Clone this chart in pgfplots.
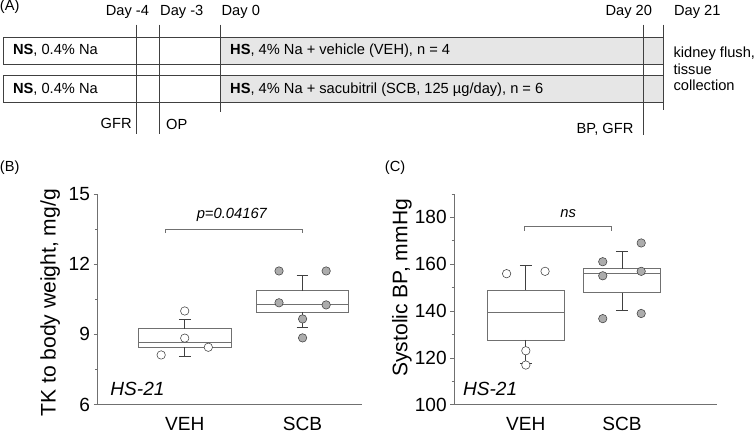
\documentclass[border=0pt]{standalone}
\usepackage{pgfplots}
\pgfplotsset{compat=1.18}
\usepackage{fontspec}
\setmainfont{Liberation Sans}
\definecolor{ln}{HTML}{404040}
\definecolor{bx}{HTML}{707070}
\definecolor{fillA}{HTML}{E6E6E6}
\definecolor{ptfill}{HTML}{ACACAC}
\definecolor{ax}{HTML}{707070}
\newcommand{\fsA}{\fontsize{14.6}{16.5}\selectfont}
\newcommand{\fsT}{\fontsize{19}{22}\selectfont}
\newcommand{\fsL}{\fontsize{21}{24}\selectfont}
\pgfplotsset{
  panel/.style={
    scale only axis, clip=false,
    axis x line*=bottom, axis y line*=left,
    axis line style={-, ax, line width=0.8pt},
    tick align=outside, major tick length=4bp, minor tick length=2.5bp,
    xtick={1,2}, xticklabels={VEH,SCB},
    x tick style={draw=none},
    y tick style={ax, line width=0.8pt},
    minor y tick style={ax, line width=0.8pt},
    tick label style={font=\fsT},
    xticklabel style={yshift=-5bp},
    /pgf/number format/assume math mode=true,
  },
  boxst/.style={bx, line width=0.8pt},
  whst/.style={ln, line width=0.8pt},
  vehpt/.style={only marks, mark=*, mark size=4.2pt, mark options={fill=white, draw=ln, line width=0.55pt}},
  scbpt/.style={only marks, mark=*, mark size=4.2pt, mark options={fill=ptfill, draw=ln, line width=0.55pt}},
}
\begin{document}
\begin{tikzpicture}
% ---------------- Panel A: timeline ----------------
\begin{axis}[at={(0bp,0bp)}, anchor=north west, scale only axis,
  width=755bp, height=432bp, xmin=0, xmax=755, ymin=0, ymax=432,
  y dir=reverse, hide axis, clip=false]
\addplot[fill=fillA, draw=none] coordinates {(222,43) (662,43) (662,69) (222,69)} -- cycle;
\addplot[fill=fillA, draw=none] coordinates {(222,80) (662,80) (662,107) (222,107)} -- cycle;
\addplot[ln, line width=0.9pt] coordinates {(7,43) (662,43) (662,69) (7,69)} -- cycle;
\addplot[ln, line width=0.9pt] coordinates {(7,80) (662,80) (662,107) (7,107)} -- cycle;
\addplot[ln, line width=0.9pt] coordinates {(139,30) (139,138)};
\addplot[ln, line width=0.9pt] coordinates {(161,30) (161,138)};
\addplot[ln, line width=0.9pt] coordinates {(222,30) (222,117)};
\addplot[ln, line width=0.9pt] coordinates {(642,30) (642,139)};
\addplot[ln, line width=0.9pt] coordinates {(662,30) (662,115)};
\node[anchor=base west, font=\fsA, inner sep=0pt] at (axis cs:3,16) {(A)};
\node[anchor=base west, font=\fsA, inner sep=0pt] at (axis cs:108,21) {Day -4};
\node[anchor=base west, font=\fsA, inner sep=0pt] at (axis cs:162,21) {Day -3};
\node[anchor=base west, font=\fsA, inner sep=0pt] at (axis cs:223,21) {Day 0};
\node[anchor=base west, font=\fsA, inner sep=0pt] at (axis cs:604,21) {Day 20};
\node[anchor=base west, font=\fsA, inner sep=0pt] at (axis cs:672,21) {Day 21};
\node[anchor=base west, font=\fsA, inner sep=0pt] at (axis cs:16,60) {\textbf{NS}, 0.4\% Na};
\node[anchor=base west, font=\fsA, inner sep=0pt] at (axis cs:16,98) {\textbf{NS}, 0.4\% Na};
\node[anchor=base west, font=\fsA, inner sep=0pt] at (axis cs:231.5,60) {\textbf{HS}, 4\% Na + vehicle (VEH), n = 4};
\node[anchor=base west, font=\fsA, inner sep=0pt] at (axis cs:231.5,98) {\textbf{HS}, 4\% Na + sacubitril (SCB, 125 µg/day), n = 6};
\node[anchor=base west, font=\fsA, inner sep=0pt] at (axis cs:671.5,62.5) {kidney flush,};
\node[anchor=base west, font=\fsA, inner sep=0pt] at (axis cs:671.5,79.3) {tissue};
\node[anchor=base west, font=\fsA, inner sep=0pt] at (axis cs:671.5,95.7) {collection};
\node[anchor=base east, font=\fsA, inner sep=0pt] at (axis cs:134,133.3) {GFR};
\node[anchor=base west, font=\fsA, inner sep=0pt] at (axis cs:168,134) {OP};
\node[anchor=base east, font=\fsA, inner sep=0pt] at (axis cs:632,137.5) {BP, GFR};
\node[anchor=base west, font=\fsA, inner sep=0pt] at (axis cs:3,176) {(B)};
\node[anchor=base west, font=\fsA, inner sep=0pt] at (axis cs:385,176) {(C)};
\end{axis}
% ---------------- Panel B ----------------
\begin{axis}[panel, at={(100bp,-407bp)}, anchor=south west,
  width=262bp, height=209bp,
  xmin=0.26, xmax=2.5, ymin=6, ymax=15,
  ytick={6,9,12,15}, minor ytick={7.5,10.5,13.5},
  ylabel={TK to body weight, mg/g},
  every axis y label/.style={at={(axis description cs:-0.179,0.483)}, rotate=90, anchor=center, font=\fsL}]
% VEH box
\addplot[boxst] coordinates {(0.607,8.45) (1.393,8.45) (1.393,9.24) (0.607,9.24)} -- cycle;
\addplot[boxst] coordinates {(0.607,8.67) (1.393,8.67)};
\addplot[whst] coordinates {(1,9.24) (1,9.65)};
\addplot[whst] coordinates {(0.95,9.65) (1.05,9.65)};
\addplot[whst] coordinates {(1,8.45) (1,8.05)};
\addplot[whst] coordinates {(0.95,8.05) (1.05,8.05)};
% SCB box
\addplot[boxst] coordinates {(1.607,9.95) (2.393,9.95) (2.393,10.86) (1.607,10.86)} -- cycle;
\addplot[boxst] coordinates {(1.607,10.3) (2.393,10.3)};
\addplot[whst] coordinates {(2,10.86) (2,11.54)};
\addplot[whst] coordinates {(1.95,11.54) (2.05,11.54)};
\addplot[whst] coordinates {(2,9.95) (2,9.28)};
\addplot[whst] coordinates {(1.95,9.28) (2.05,9.28)};
% points
\addplot[vehpt] coordinates {(0.8,8.12) (1,8.84) (1,10.0) (1.2,8.45)};
\addplot[scbpt] coordinates {(1.8,11.71) (2.2,11.71) (1.8,10.35) (2.2,10.26) (2,9.66) (2,8.85)};
% bracket
\addplot[bx, line width=0.8pt] coordinates {(0.84,13.33) (0.84,13.48) (2.0,13.48) (2.0,13.33)};
\node[font=\fontsize{14.7}{17}\selectfont\itshape] at (axis cs:1.40,14.09) {p=0.04167};
\node[anchor=west, inner sep=0pt, font=\fsT\itshape] at (axis cs:0.368,6.65) {HS-21};
\end{axis}
% ---------------- Panel C ----------------
\begin{axis}[panel, at={(454bp,-407.3bp)}, anchor=south west,
  width=261bp, height=209.3bp,
  xmin=0.255, xmax=2.99, ymin=100, ymax=190,
  ytick={100,120,140,160,180}, minor ytick={110,130,150,170,190},
  ylabel={Systolic BP, mmHg},
  every axis y label/.style={at={(axis description cs:-0.199,0.555)}, rotate=90, anchor=center, font=\fsL}]
% VEH box
\addplot[boxst] coordinates {(0.6,127.7) (1.4,127.7) (1.4,149.0) (0.6,149.0)} -- cycle;
\addplot[boxst] coordinates {(0.6,139.6) (1.4,139.6)};
\addplot[whst] coordinates {(1,149.0) (1,159.5)};
\addplot[whst] coordinates {(0.937,159.5) (1.063,159.5)};
\addplot[whst] coordinates {(1,127.7) (1,117.5)};
\addplot[whst] coordinates {(0.937,117.5) (1.063,117.5)};
% SCB box
\addplot[boxst] coordinates {(1.6,147.9) (2.4,147.9) (2.4,158.1) (1.6,158.1)} -- cycle;
\addplot[boxst] coordinates {(1.6,155.9) (2.4,155.9)};
\addplot[whst] coordinates {(2,158.1) (2,165.5)};
\addplot[whst] coordinates {(1.937,165.5) (2.063,165.5)};
\addplot[whst] coordinates {(2,147.9) (2,140.4)};
\addplot[whst] coordinates {(1.937,140.4) (2.063,140.4)};
% points
\addplot[vehpt] coordinates {(0.8,156.0) (1.2,157.0) (1,123.1) (1,117.0)};
\addplot[scbpt] coordinates {(1.8,161.1) (1.8,155.1) (1.8,136.8) (2.2,169.1) (2.2,157.0) (2.2,139.0)};
% bracket
\addplot[bx, line width=0.8pt] coordinates {(0.98,174.4) (0.98,176.0) (1.89,176.0) (1.89,174.4)};
\node[font=\fontsize{14.7}{17}\selectfont\itshape] at (axis cs:1.44,181.5) {ns};
\node[anchor=west, inner sep=0pt, font=\fsT\itshape] at (axis cs:0.346,106.7) {HS-21};
\end{axis}
\end{tikzpicture}
\end{document}
